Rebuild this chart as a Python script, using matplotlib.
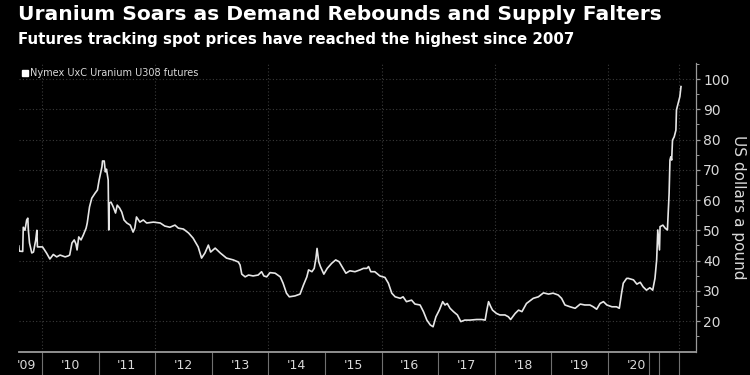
import matplotlib
matplotlib.use("Agg")
import matplotlib.pyplot as plt
from matplotlib.ticker import FixedLocator, NullFormatter

# Nymex UxC Uranium U308 futures (decimal year, USD/lb)
dates = [
    2009.59, 2009.60, 2009.66, 2009.67, 2009.70, 2009.73, 2009.75, 2009.76, 2009.78, 2009.82,
    2009.85, 2009.89, 2009.91, 2009.92, 2009.96, 2010.01, 2010.08, 2010.14, 2010.20, 2010.26,
    2010.32, 2010.41, 2010.46, 2010.49, 2010.53, 2010.57, 2010.60, 2010.62, 2010.65, 2010.69,
    2010.73, 2010.78, 2010.80, 2010.84, 2010.88, 2010.94, 2010.98, 2011.01, 2011.06, 2011.07,
    2011.10, 2011.12, 2011.14, 2011.17, 2011.18, 2011.19, 2011.22, 2011.26, 2011.30, 2011.33,
    2011.37, 2011.41, 2011.45, 2011.50, 2011.56, 2011.61, 2011.64, 2011.67, 2011.73, 2011.79,
    2011.85, 2011.97, 2012.09, 2012.17, 2012.26, 2012.35, 2012.41, 2012.50, 2012.59, 2012.67,
    2012.76, 2012.82, 2012.88, 2012.94, 2012.98, 2013.06, 2013.15, 2013.26, 2013.38, 2013.47,
    2013.50, 2013.53, 2013.59, 2013.65, 2013.73, 2013.82, 2013.88, 2013.92, 2013.97, 2014.03,
    2014.12, 2014.21, 2014.26, 2014.32, 2014.37, 2014.47, 2014.56, 2014.62, 2014.68, 2014.71,
    2014.77, 2014.81, 2014.84, 2014.86, 2014.89, 2014.92, 2014.98, 2015.04, 2015.12, 2015.19,
    2015.25, 2015.30, 2015.37, 2015.44, 2015.53, 2015.62, 2015.68, 2015.74, 2015.77, 2015.81,
    2015.88, 2015.97, 2016.06, 2016.12, 2016.18, 2016.24, 2016.33, 2016.38, 2016.44, 2016.53,
    2016.59, 2016.68, 2016.74, 2016.80, 2016.86, 2016.91, 2016.96, 2017.02, 2017.08, 2017.12,
    2017.16, 2017.21, 2017.27, 2017.34, 2017.40, 2017.47, 2017.56, 2017.68, 2017.77, 2017.83,
    2017.86, 2017.89, 2017.93, 2017.96, 2018.03, 2018.09, 2018.18, 2018.24, 2018.28, 2018.36,
    2018.42, 2018.48, 2018.56, 2018.68, 2018.77, 2018.86, 2018.95, 2019.03, 2019.12, 2019.18,
    2019.24, 2019.33, 2019.42, 2019.51, 2019.59, 2019.68, 2019.74, 2019.80, 2019.86, 2019.92,
    2019.98, 2020.07, 2020.15, 2020.20, 2020.24, 2020.27, 2020.33, 2020.36, 2020.45, 2020.51,
    2020.57, 2020.62, 2020.68, 2020.74, 2020.79, 2020.83, 2020.86, 2020.88, 2020.91, 2020.92,
    2020.97, 2021.01, 2021.05, 2021.08, 2021.095, 2021.11, 2021.125, 2021.14, 2021.17, 2021.20,
    2021.21, 2021.24, 2021.27, 2021.29,
]
prices = [
    44.8, 43.1, 43.0, 51.0, 50.0, 53.4, 54.0, 50.0, 45.8, 42.5,
    42.8, 46.8, 50.0, 44.5, 44.5, 44.5, 42.5, 40.5, 42.0, 41.2,
    41.8, 41.2, 41.5, 41.8, 45.8, 46.8, 45.5, 43.5, 47.8, 46.8,
    48.4, 50.7, 52.4, 57.7, 60.6, 62.3, 63.3, 66.6, 71.0, 72.9,
    72.9, 69.3, 70.2, 66.6, 50.1, 59.0, 59.3, 57.7, 55.7, 58.3,
    57.4, 56.0, 53.4, 52.4, 51.7, 49.4, 50.7, 54.4, 52.7, 53.4,
    52.4, 52.7, 52.4, 51.4, 51.0, 51.7, 50.7, 50.4, 49.1, 47.4,
    44.5, 40.8, 42.5, 45.1, 42.8, 44.1, 42.5, 40.8, 40.2, 39.5,
    38.5, 35.5, 34.6, 35.2, 34.9, 35.2, 36.3, 34.9, 34.6, 36.0,
    35.8, 34.6, 32.5, 29.2, 28.0, 28.3, 28.9, 31.9, 34.6, 36.9,
    36.3, 37.4, 40.7, 44.0, 39.6, 38.0, 35.5, 37.4, 39.1, 40.2,
    39.6, 38.0, 35.8, 36.6, 36.3, 36.9, 37.4, 37.4, 38.0, 36.3,
    36.3, 34.9, 34.4, 32.5, 29.2, 28.0, 27.5, 28.0, 26.4, 26.9,
    25.6, 25.3, 23.1, 20.3, 18.7, 18.1, 21.4, 23.6, 26.4, 25.3,
    25.8, 24.2, 23.1, 22.0, 19.8, 20.3, 20.3, 20.5, 20.5, 20.3,
    23.6, 26.4, 24.7, 23.6, 22.5, 22.0, 22.0, 21.4, 20.5, 22.5,
    23.6, 23.1, 25.8, 27.5, 28.0, 29.3, 28.9, 29.2, 28.6, 27.5,
    25.3, 24.7, 24.2, 25.6, 25.3, 25.3, 24.7, 23.9, 25.8, 26.4,
    25.3, 24.7, 24.7, 24.2, 29.2, 32.5, 34.1, 34.1, 33.6, 32.2,
    32.8, 31.3, 30.2, 31.0, 30.2, 34.1, 40.2, 50.1, 43.5, 51.2,
    51.7, 50.7, 50.1, 62.2, 73.2, 74.3, 73.2, 79.8, 80.9, 83.1,
    89.8, 92.0, 94.2, 97.5,
]

year_labels = ["'09", "'10", "'11", "'12", "'13", "'14", "'15", "'16", "'17", "'18", "'19", "'20"]
label_pos = [2009.72] + [y + 0.5 for y in range(2010, 2021)]
year_ticks = list(range(2010, 2021)) + [2020.72, 2020.90, 2021.26]
grid_years = [2010, 2012, 2014, 2016, 2018, 2020, 2021.26]
y_ticks = [20, 30, 40, 50, 60, 70, 80, 90, 100]

BG = "#000000"
LINE = "#e6e6e6"
AXIS = "#9a9a9a"
TEXT = "#d9d9d9"
GRID = "#3a3a3a"

fig = plt.figure(figsize=(7.5, 3.75), dpi=100, facecolor=BG)
ax = fig.add_axes([0.0253, 0.0613, 0.9027, 0.7707], facecolor=BG)

ax.plot(dates, prices, color=LINE, linewidth=1.2, solid_joinstyle="round")

ax.set_xlim(2009.594, 2021.555)
ax.set_ylim(9.75, 105.3)

# horizontal dotted grid + selected vertical dotted grid
for v in y_ticks:
    ax.axhline(v, color=GRID, linewidth=0.8, linestyle=(0, (1, 2)), zorder=0)
for g in grid_years:
    ax.axvline(g, color=GRID, linewidth=0.8, linestyle=(0, (1, 2)), zorder=0)

for side in ["left", "top"]:
    ax.spines[side].set_visible(False)
ax.spines["bottom"].set_color(AXIS)
ax.spines["bottom"].set_linewidth(1.3)
ax.spines["right"].set_color(AXIS)
ax.spines["right"].set_linewidth(0.9)

# x axis: labels mid-year, long ticks at year boundaries
ax.xaxis.set_major_locator(FixedLocator(label_pos))
ax.set_xticklabels(year_labels)
ax.xaxis.set_minor_locator(FixedLocator(year_ticks))
ax.xaxis.set_minor_formatter(NullFormatter())
ax.tick_params(axis="x", which="major", length=0, pad=5, labelsize=9, labelcolor=TEXT)
ax.tick_params(axis="x", which="minor", length=24, width=0.8, color="#707070", direction="out")

# y axis on the right
ax.yaxis.tick_right()
ax.yaxis.set_label_position("right")
ax.set_yticks(y_ticks)
ax.yaxis.set_minor_locator(FixedLocator([15, 25, 35, 45, 55, 65, 75, 85, 95, 105]))
ax.tick_params(axis="y", which="major", length=3, width=0.9, color=AXIS, pad=2,
               labelsize=10, labelcolor=TEXT)
ax.tick_params(axis="y", which="minor", length=2, width=0.7, color=AXIS)
ax.set_ylabel("US dollars a pound", color=TEXT, fontsize=11, rotation=270, labelpad=12)

fig.text(0.024, 0.947, "Uranium Soars as Demand Rebounds and Supply Falters",
         color="white", fontsize=14.6, fontweight="bold", va="baseline", ha="left")
fig.text(0.024, 0.882, "Futures tracking spot prices have reached the highest since 2007",
         color="white", fontsize=10.8, fontweight="bold", va="baseline", ha="left")

# legend
fig.patches.append(plt.Rectangle((22 / 750, 1 - 76 / 375), 6 / 750, 6 / 375,
                                 transform=fig.transFigure, color="white"))
fig.text(30 / 750, 1 - 73 / 375, "Nymex UxC Uranium U308 futures", color=TEXT,
         fontsize=7, va="center", ha="left")

fig.savefig("out.png", dpi=100, facecolor=BG)
